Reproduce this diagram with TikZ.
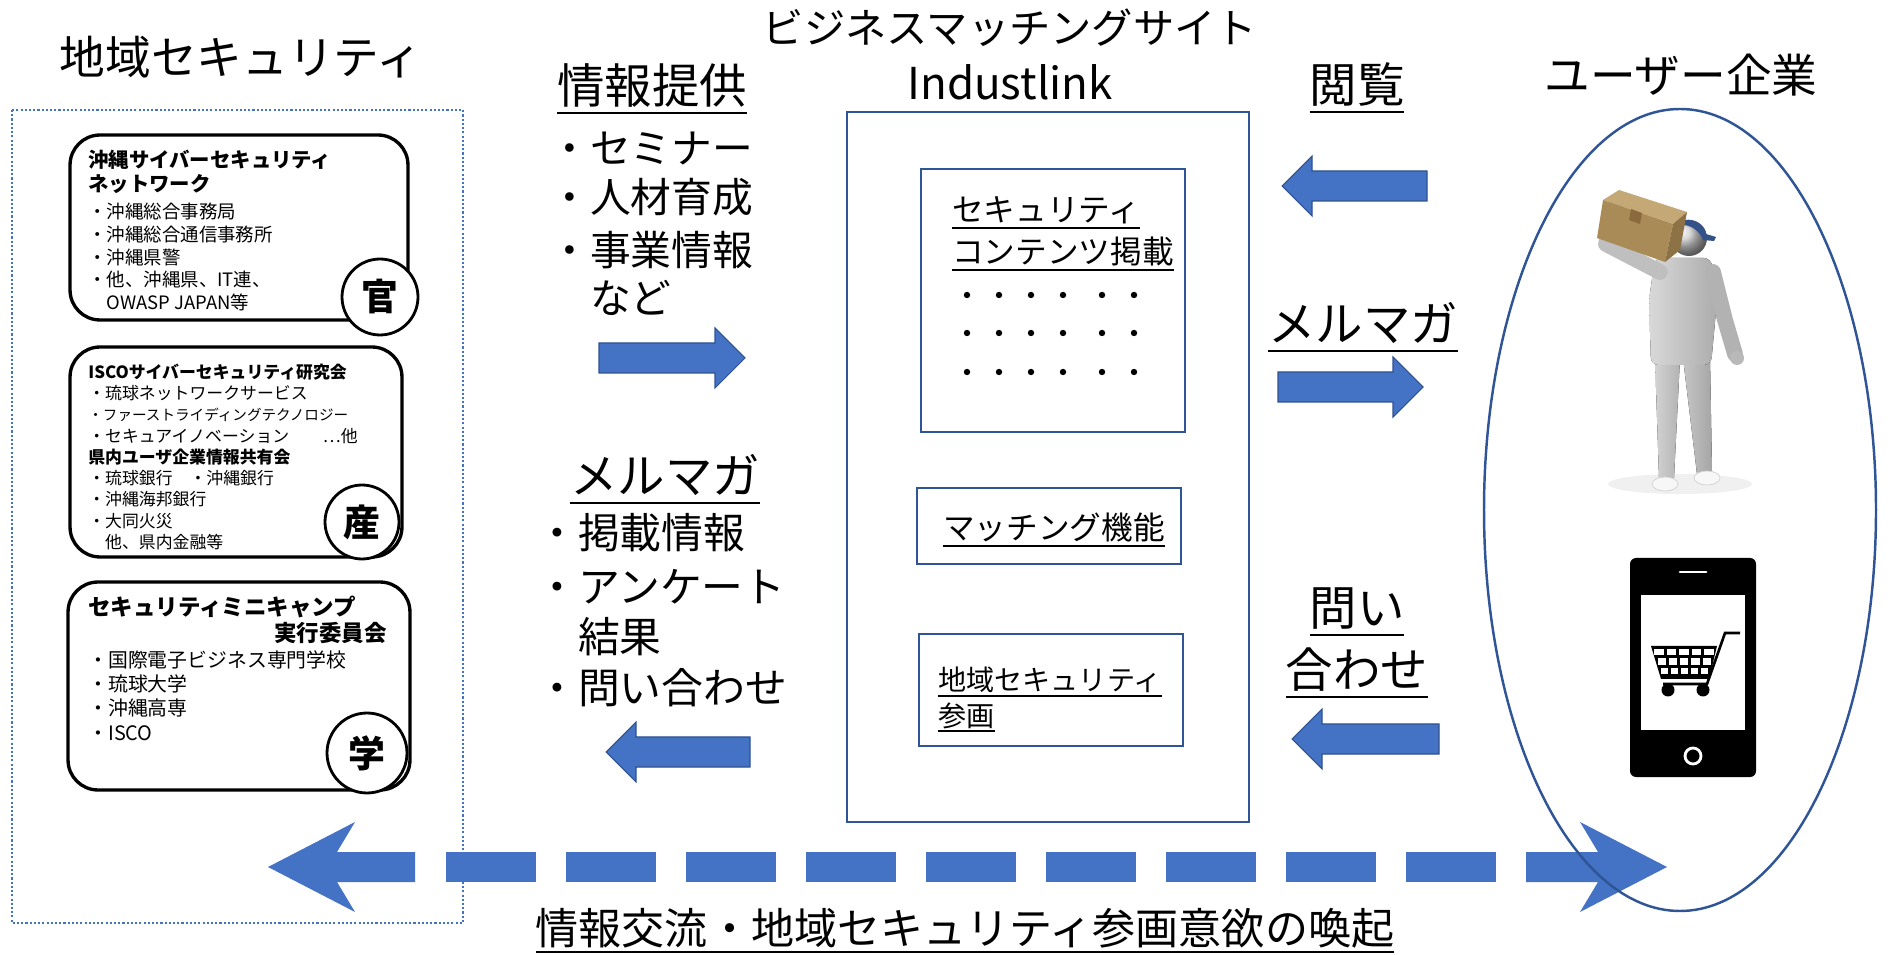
\documentclass[tikz,border=0pt]{standalone}
\usepackage{fontspec}
\setmainfont{Noto Sans CJK JP}
\usepackage{tikz}
\usetikzlibrary{calc}

\definecolor{arrowblue}{HTML}{4472C4}
\definecolor{arrowedge}{HTML}{2F528F}
\definecolor{frameblue}{HTML}{2F5597}
\definecolor{capblue}{HTML}{34528A}
\definecolor{boxtop}{HTML}{C4A875}
\definecolor{boxfront}{HTML}{A98B57}
\definecolor{boxside}{HTML}{8C7244}
\definecolor{boxtape}{HTML}{8A6A3C}

% font size in pt, and an underline that sits a little below the text
\newcommand{\fsz}[1]{\fontsize{#1}{#1}\selectfont}
\newsavebox{\ulbox}
\newcommand{\uln}[1]{\sbox{\ulbox}{#1}\rlap{\rule[-0.22em]{\wd\ulbox}{0.06em}}\usebox{\ulbox}}

\begin{document}
\begin{tikzpicture}[x=0.02cm, y=-0.02cm,
  group/.style={draw, line width=1.9pt, rounded corners=0.6cm},
  sector/.style={circle, draw, line width=1.6pt, fill=white, inner sep=0pt, font=\fsz{21}\bfseries},
  site/.style={draw=frameblue, line width=1.2pt},
  part/.style={draw=frameblue, line width=1.5pt},
  item/.style={anchor=west, inner sep=0pt},
  head/.style={anchor=base, inner sep=0pt, font=\fsz{27}},
  pics/blockarrow/.style={code={
    \filldraw[fill=arrowblue, draw=arrowedge, line width=0.6pt]
      (0,-15) -- (#1,-15) -- (#1,-30) -- (#1+30,0) -- (#1,30) -- (#1,15) -- (0,15) -- cycle;}}]
\useasboundingbox (0,0) rectangle (1890,955);

% ---------- left: regional community ----------
\node[font=\fsz{26}] (region) at (241,57) {地域セキュリティ};

\node[group, minimum width=6.76cm, minimum height=3.7cm] (gov) at (239,227.5) {};
\node[item, font=\fsz{11.6}\bfseries] (gov-name1) at (88,160) {沖縄サイバーセキュリティ};
\node[item, font=\fsz{11.6}\bfseries] (gov-name2) at (88,184) {ネットワーク};
\foreach \txt [count=\i] in {・沖縄総合事務局, ・沖縄総合通信事務所, ・沖縄県警, ・他、沖縄県、IT連、, 　OWASP JAPAN等}
  \node[item, font=\fsz{10.5}] (gov-\i) at (88, 212+22.5*\i-22.5) {\txt};
\node[sector, minimum size=1.52cm] (gov-mark) at (380,297) {官};

\node[group, minimum width=6.64cm, minimum height=4.2cm] (ind) at (236,452) {};
\node[item, font=\fsz{9.6}\bfseries] (ind-name1) at (88,372) {ISCOサイバーセキュリティ研究会};
\node[item, font=\fsz{9.6}] (ind-1) at (88,393) {・琉球ネットワークサービス};
\node[item, font=\fsz{8.3}] (ind-2) at (88,414.5) {・ファーストライディングテクノロジー};
\node[item, font=\fsz{9.6}] (ind-3) at (88,436) {・セキュアイノベーション　　⋯他};
\node[item, font=\fsz{9.6}\bfseries] (ind-name2) at (88,457) {県内ユーザ企業情報共有会};
\node[item, font=\fsz{9.6}] (ind-4) at (88,478) {・琉球銀行　・沖縄銀行};
\node[item, font=\fsz{9.6}] (ind-5) at (88,499.5) {・沖縄海邦銀行};
\node[item, font=\fsz{9.6}] (ind-6) at (88,521) {・大同火災};
\node[item, font=\fsz{9.6}] (ind-7) at (88,542) {　他、県内金融等};
\node[sector, minimum size=1.48cm] (ind-mark) at (362,522) {産};

\node[group, minimum width=6.84cm, minimum height=4.16cm] (acad) at (239,686) {};
\node[item, font=\fsz{12.8}\bfseries] (acad-name1) at (88,607) {セキュリティミニキャンプ};
\node[anchor=east, inner sep=0pt, font=\fsz{12.8}\bfseries] (acad-name2) at (387,633) {実行委員会};
\foreach \txt/\y [count=\i] in {・国際電子ビジネス専門学校/660, ・琉球大学/684, ・沖縄高専/708, ・ISCO/733}
  \node[item, font=\fsz{11.3}] (acad-\i) at (88,\y) {\txt};
\node[sector, minimum size=1.6cm] (acad-mark) at (367,753) {学};

% ---------- centre: matching site ----------
\node[font=\fsz{23.5}] (site-name) at (1010,28) {ビジネスマッチングサイト};
\node[font=\fsz{25}] (site-brand) at (1010,82) {Industlink};
\node[site, minimum width=8.04cm, minimum height=14.2cm] (site) at (1048,467) {};

\node[part, minimum width=5.28cm, minimum height=5.26cm] (contents) at (1053,300.5) {};
\node[anchor=base west, inner sep=0pt, font=\fsz{18}] (contents-1) at (952,222) {\uln{セキュリティ}};
\node[anchor=base west, inner sep=0pt, font=\fsz{18}] (contents-2) at (952,264) {\uln{コンテンツ掲載}};
\foreach \y in {295,333,372}
  \foreach \x in {967,999,1031,1063,1102,1134}
    \fill (\x,\y) circle (3.2);

\node[part, minimum width=5.28cm, minimum height=1.52cm] (matching) at (1049,526) {};
\node[anchor=base, inner sep=0pt, font=\fsz{18}] (matching-text) at (1054,540) {\uln{マッチング機能}};

\node[part, minimum width=5.28cm, minimum height=2.24cm] (join) at (1051,690) {};
\node[anchor=base west, inner sep=0pt, font=\fsz{16}] (join-1) at (938,691) {\uln{地域セキュリティ}};
\node[anchor=base west, inner sep=0pt, font=\fsz{16}] (join-2) at (938,726) {\uln{参画}};

% ---------- between community and site ----------
\node[head] (offer) at (652,104) {\uln{情報提供}};
\foreach \txt/\y [count=\i] in {・セミナー/149, ・人材育成/197, ・事業情報/250, 　など/298}
  \node[item, font=\fsz{23.2}] (offer-\i) at (549,\y) {\txt};
\pic at (599,358) {blockarrow=116};

\node[head] (mail-l) at (665,494) {\uln{メルマガ}};
\foreach \txt/\y [count=\i] in {・掲載情報/533, ・アンケート/587, 　結果/637, ・問い合わせ/688}
  \node[item, font=\fsz{23.8}] (mail-l-\i) at (536,\y) {\txt};
\pic[xscale=-1] at (750,752) {blockarrow=114};

% ---------- between site and users ----------
\node[head] (browse) at (1357,103) {\uln{閲覧}};
\pic[xscale=-1] at (1427,186) {blockarrow=115};
\node[head] (mail-r) at (1363,342) {\uln{メルマガ}};
\pic at (1278,387) {blockarrow=115};
\node[head] (ask-1) at (1357,626) {\uln{問い}};
\node[head] (ask-2) at (1357,688) {\uln{合わせ}};
\pic[xscale=-1] at (1439,739) {blockarrow=117};

% ---------- users ----------
\node[font=\fsz{26}] (users) at (1681,75) {ユーザー企業};

% delivery man
\fill[gray!12] (1680,484) ellipse [x radius=72, y radius=10];
\fill[left color=gray!35, right color=gray!60] (1655,358) -- (1680,358) -- (1674,478) -- (1659,478) -- cycle;
\fill[left color=gray!45, right color=gray!70] (1683,358) -- (1710,358) -- (1712,472) -- (1697,474) -- cycle;
\filldraw[fill=gray!6, draw=gray!35] (1665,484) ellipse [x radius=13, y radius=7];
\filldraw[fill=gray!6, draw=gray!35] (1707,478) ellipse [x radius=13, y radius=7];
\fill[left color=gray!30, right color=gray!65, rounded corners=0.15cm]
  (1655,258) -- (1711,258) -- (1717,300) -- (1711,365) -- (1651,365) -- (1649,300) -- cycle;
\draw[gray!60, line width=9pt, line cap=round] (1713,272) -- (1725,320) -- (1735,354);
\fill[gray!55] (1737,358) circle (7);
\shade[ball color=gray!40] (1689,238) circle (18);
\fill[capblue] (1684,220) .. controls (1696,218) and (1705,226) .. (1706,234)
  -- (1716,237) -- (1714,241) -- (1703,240) .. controls (1700,232) and (1693,226) .. (1684,225) -- cycle;
\draw[gray!50, line width=9pt, line cap=round, line join=round] (1660,272) -- (1606,244) -- (1616,208);
\fill[boxtop] (1603,200) -- (1619,190) -- (1687,212) -- (1673,224) -- cycle;
\fill[boxfront] (1603,200) -- (1673,224) -- (1665,262) -- (1597,238) -- cycle;
\fill[boxside] (1673,224) -- (1687,212) -- (1680,250) -- (1665,262) -- cycle;
\fill[boxtape] (1631,209) -- (1642,213) -- (1640,224) -- (1629,220) -- cycle;

% smartphone with cart
\fill[black, rounded corners=0.12cm] (1630,558) rectangle (1756,777);
\fill[white] (1641,595) rectangle (1745,730);
\draw[white, line width=1.7pt, line cap=round] (1680,572) -- (1706,572);
\draw[white, line width=1.6pt] (1693,756) circle (8);
\fill (1651,646) -- (1717,646) -- (1709,679) -- (1661,679) -- cycle;
\foreach \r in {0,1,2}
  \foreach \c in {0,...,4}
    \fill[white] ({1654+3.5*\r+\c*(12.6-1.3*\r)}, {649+9.5*\r}) rectangle ++({9.6-1.3*\r}, 6.5);
\draw[line width=1.5pt] (1740,633) -- (1725,633) -- (1707,684) -- (1663,684);
\fill (1668,690) circle (6.5);
\fill (1703,690) circle (6.5);

% ---------- exchange arrow ----------
\fill[arrowblue] (268,867) -- (355,822) -- (337,852) -- (415,852) -- (415,882) -- (337,882) -- (355,912) -- cycle;
\foreach \i in {0,...,8}
  \fill[arrowblue] (446+120*\i,852) rectangle ++(90,30);
\fill[arrowblue] (1667,867) -- (1580,822) -- (1598,852) -- (1526,852) -- (1526,882) -- (1598,882) -- (1580,912) -- cycle;
\node[head, font=\fsz{24.5}] (slogan) at (965,944) {\uln{情報交流・地域セキュリティ参画意欲の喚起}};

% frames on top
\draw[arrowblue, line width=1.2pt, dash pattern=on 1.2pt off 1.2pt] (12,110) rectangle (463,923);
\draw[frameblue, line width=1.4pt] (1680,510) ellipse [x radius=196, y radius=401];
\end{tikzpicture}
\end{document}
